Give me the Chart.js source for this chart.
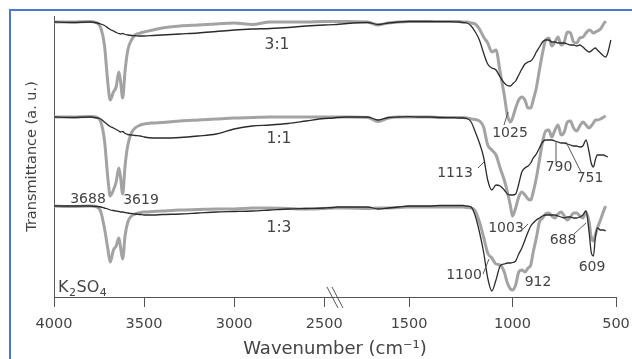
<!DOCTYPE html>
<html>
<head>
<meta charset="utf-8">
<script src="https://cdn.jsdelivr.net/npm/chart.js@4/dist/chart.umd.min.js"></script>
<style>
  html, body { margin: 0; padding: 0; background: #fff; }
</style>
</head>
<body>
<canvas id="chart" width="632" height="359"></canvas>
<script>
// wavenumber grid (cm-1), shared by all six traces
const wavenumbers = [4000, 3900, 3800, 3760, 3740, 3720, 3700, 3688, 3670, 3655, 3640, 3630, 3619, 3605, 3590, 3570, 3550, 3520, 3500, 3450, 3400, 3300, 3200, 3100, 3000, 2900, 2800, 2700, 2600, 2500, 2450,
  1850, 1800, 1700, 1650, 1600, 1550, 1500, 1450, 1400, 1350, 1300, 1280, 1260, 1240, 1220, 1200, 1180, 1160, 1140, 1120,
  1100, 1080, 1060, 1040, 1025, 1010, 1000, 985, 970, 955, 940, 925, 912, 900, 885, 870, 855, 840, 825, 810,
  795, 780, 765, 750, 735, 720, 705, 690, 675, 660, 645, 630, 620, 609, 600, 590, 575, 560, 550, 540, 525];

// transmittance (a.u., traces stacked) - gray = thick trace, black = thin trace
const gray31 = [275, 275, 275.5, 274, 269, 252, 212, 197, 205, 210, 225, 215, 199, 227, 247, 257, 262, 264, 265, 267, 269, 271, 272, 273, 274, 272.5, 275, 275, 275, 275.5, 275.5,
  275.5, 275.5, 275, 272, 274, 275, 275.5, 275.5, 275.5, 275.5, 275.5, 275.5, 275.5, 275, 275, 274, 273, 268, 260, 254,
  245, 247, 225, 202, 182, 175, 179, 189, 197, 200, 197, 189, 189, 197, 209, 227, 244, 257, 259, 251,
  255, 260, 252, 255, 265, 264, 255, 254, 259, 260, 264, 267, 266, 264, 265, 266, 268, 273, 276, null, null];
const black31 = [275, 274.5, 275, 274, 273, 271.5, 269, 267.5, 266, 264.5, 263.5, 263, 263.5, 262.5, 262, 261.5, 261.3, 261, 261, 261.5, 262, 263, 264, 265.5, 267, 268, 268.5, 269.5, 271, 272, 272.3,
  272.5, 273.5, 274.5, 272.5, 274, 275, 275.5, 275.5, 275.5, 275.3, 275.3, 275.2, 275, 274.5, 274, 271, 265, 257, 244, 233,
  229, 227, 220, 214, 211.5, 211, 213, 216, 222, 228, 233, 235, 236, 239, 245, 250, 255, 257, 257, 255,
  255, 254, 254, 254, 253, 252, 252, 251, 252, 250, 247, 245, 246, 248, 249, 247, 244, 241, 240, 244, 257];
const gray11 = [180, 180, 180.5, 179.5, 175, 157, 117, 101, 107, 115, 129, 119, 103, 132, 152, 164, 169, 172, 173, 174, 174.5, 176, 177, 178, 179, 179.5, 180, 180, 180, 180, 180,
  180, 180, 179.5, 175.5, 179, 180, 180, 180, 180, 179.5, 179.5, 179.5, 179.5, 179.5, 179, 178, 177.5, 176, 170, 152,
  147, 142, 129, 117, 105, 91, 81, 89, 100, 105, 102, 98, 97, 105, 119, 137, 155, 166, 167, 160,
  167, 172, 162, 165, 175, 176, 169, 166, 171, 175, 172, 169, 171, 174, 177, 177, 178, 180, 181, null, null];
const black11 = [180, 179.5, 180, 179, 178, 175, 172, 170.5, 169, 167.5, 166, 165, 165.5, 163.5, 162.5, 162, 161.5, 161, 160, 159, 159, 159.5, 161, 163, 168, 171, 172, 173.5, 176, 178.5, 179,
  179.5, 180, 180, 177, 179.5, 180, 180.3, 180, 180, 179.5, 179.3, 179.3, 179, 179, 178.5, 175, 165, 154, 140, 117,
  107, 112, 111, 107, 103, 102, 102, 103, 113, 125, 129, 131, 134, 139, 143, 149, 155, 157, 157, 157,
  156, 155, 154, 154, 153, 152, 151, 151, 150, 151, 157, 145, 134, 130, 137, 142, 142, 142, 141, 140, null];
const gray13 = [91, 90.5, 91, 90, 85, 69, 47, 35, 47, 51, 59, 49, 38, 62, 75, 81, 83, 84.5, 85, 85.5, 86, 87, 87.5, 88, 88, 89, 89, 88.5, 88, 88.5, 89,
  89, 89, 88.5, 89, 89, 89.5, 90, 90, 90, 90, 90, 90, 90, 90, 89.5, 89, 86, 75, 60, 44,
  39, 33, 32, 25, 14, 8, 7, 12, 25, 27, 25, 29, 32, 45, 59, 75, 79, 83, 84, 81,
  79, 83, 85, 81, 77, 80, 84, 84, 81, 79, 85, 75, 60, 56, 62, 69, 77, 86, 91, null, null];
const black13 = [91, 91, 91, 90.5, 90, 89, 88, 87, 86.5, 86, 85.5, 85, 85, 84.5, 84, 83.5, 83, 82.5, 82, 82, 82.5, 83, 84, 85, 85.5, 86, 87, 88, 88.5, 89, 89.5,
  90, 90, 90, 88, 89, 90, 91, 91, 91, 91.5, 91.5, 91.5, 91.5, 91.5, 91, 90, 81, 65, 45, 19,
  6, 17, 31, 33, 34, 34, 34.5, 36, 43, 49, 57, 65, 71, 74, 77, 79, 81, 82, 82, 82,
  82, 81, 80, 79, 80, 80, 79, 79, 80, 82, 86, 65, 45, 41, 59, 69, 67, 67, 66, null, null];

const tickValues = [4000, 3500, 3000, 2500, 1500, 1000, 500];
const ratioLabels = ['3:1', '1:1', '1:3'];
const peakLabels = ['3688', '3619', '1025', '1113', '790', '751', '1003', '1100', '912', '688', '609'];

// axis is broken between 2440 and 1858 cm-1, each side takes half the width
const BREAK_HI = 2440, BREAK_LO = 1858;
class BrokenScale extends Chart.LinearScale {
  getPixelForValue(value) {
    const f = value >= BREAK_HI
      ? (4000 - value) / (4000 - BREAK_HI) * 0.5
      : 0.5 + (BREAK_LO - value) / (BREAK_LO - 500) * 0.5;
    return this.left + f * this.width;
  }
}
BrokenScale.id = 'broken';
BrokenScale.defaults = Chart.LinearScale.defaults;
Chart.register(BrokenScale);

const TEXT = '#444';
const FONT = '"DejaVu Sans", sans-serif';

function pts(values) {
  return wavenumbers.map((w, i) => ({ x: w, y: values[i] }));
}
function thin(values) {
  return { data: pts(values), borderColor: '#2b2b2b', borderWidth: 1.3 };
}
function thick(values) {
  return { data: pts(values), borderColor: '#a3a3a3', borderWidth: 3 };
}

// text positions, pixels
const ratioPos = [[277, 45], [279, 139], [279, 228]];
const peakPos = [[88, 199], [141, 200], [510, 133], [455, 173], [559, 167], [590, 178], [506, 228], [464, 275], [538, 282], [563, 240], [592, 267]];
const leaders = [[504, 125, 508, 112], [478, 168, 484, 162], [556, 162, 556, 142], [581, 172, 566, 142], [523, 229, 528, 224], [483, 274, 489, 259], [574, 234, 586, 223]];

const notesPlugin = {
  id: 'notes',
  afterDraw(chart) {
    const ctx = chart.ctx;
    ctx.save();
    ctx.fillStyle = TEXT;
    ctx.textAlign = 'center';
    ctx.textBaseline = 'middle';
    ctx.font = '15.5px ' + FONT;
    ratioLabels.forEach((t, i) => ctx.fillText(t, ratioPos[i][0], ratioPos[i][1]));
    ctx.font = '14px ' + FONT;
    peakLabels.forEach((t, i) => ctx.fillText(t, peakPos[i][0], peakPos[i][1]));

    ctx.strokeStyle = '#555';
    ctx.lineWidth = 1;
    leaders.forEach(l => {
      ctx.beginPath();
      ctx.moveTo(l[0], l[1]);
      ctx.lineTo(l[2], l[3]);
      ctx.stroke();
    });

    // K2SO4 with subscripts
    ctx.textAlign = 'left';
    ctx.textBaseline = 'alphabetic';
    let x = 58;
    [['K', 16, 0], ['2', 11, 4], ['SO', 16, 0], ['4', 11, 4]].forEach(p => {
      ctx.font = p[1] + 'px ' + FONT;
      ctx.fillText(p[0], x, 292 + p[2]);
      x += ctx.measureText(p[0]).width + 0.5;
    });

    // break marks on x axis
    ctx.beginPath();
    ctx.moveTo(327, 287); ctx.lineTo(338, 308);
    ctx.moveTo(332, 287); ctx.lineTo(343, 308);
    ctx.stroke();

    // blue frame
    ctx.strokeStyle = '#4a78cc';
    ctx.lineWidth = 2;
    ctx.beginPath();
    ctx.moveTo(10, 359);
    ctx.lineTo(10, 10);
    ctx.lineTo(632, 10);
    ctx.stroke();
    ctx.restore();
  }
};

new Chart(document.getElementById('chart'), {
  type: 'line',
  data: {
    datasets: [thin(black31), thin(black11), thin(black13), thick(gray31), thick(gray11), thick(gray13)]
  },
  options: {
    responsive: false,
    animation: false,
    events: [],
    layout: { padding: { top: 16, right: 16, left: 0, bottom: 0 } },
    plugins: { legend: { display: false }, tooltip: { enabled: false } },
    elements: { point: { radius: 0 }, line: { cubicInterpolationMode: 'monotone' } },
    scales: {
      x: {
        type: 'broken',
        min: 500,
        max: 4000,
        afterBuildTicks: s => { s.ticks = tickValues.map(v => ({ value: v })); },
        afterFit: s => { s.height = 62; s.paddingLeft = 0; s.paddingRight = 0; },
        ticks: { autoSkip: false, maxRotation: 0, padding: 9, color: TEXT, font: { family: FONT, size: 14.5 }, callback: v => String(v) },
        grid: { drawOnChartArea: false, drawTicks: true, tickLength: 10, color: '#555' },
        border: { display: true, color: '#555', width: 1 },
        title: { display: true, text: 'Wavenumber (cm⁻¹)', color: TEXT, font: { family: FONT, size: 18, lineHeight: 1 }, padding: { top: 0, bottom: 1 } }
      },
      y: {
        min: 0,
        max: 281,
        afterFit: s => { s.width = 54; s.paddingTop = 0; s.paddingBottom = 0; },
        ticks: { display: false },
        grid: { display: false },
        border: { display: true, color: '#555', width: 1 },
        title: { display: true, text: 'Transmittance (a. u.)', color: TEXT, font: { family: FONT, size: 14.5, lineHeight: 1 }, padding: { top: 25, bottom: 0 } }
      }
    }
  },
  plugins: [notesPlugin]
});
</script>
</body>
</html>
